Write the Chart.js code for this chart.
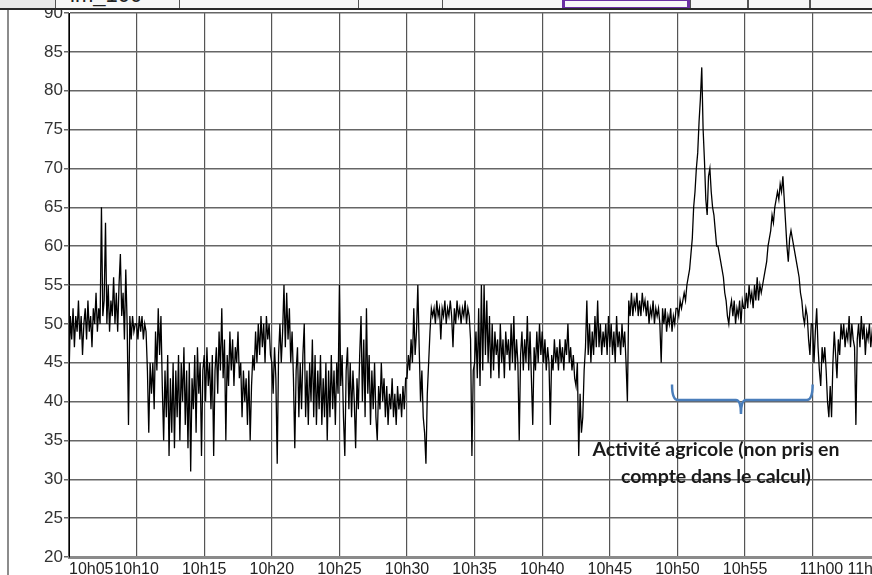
<!DOCTYPE html>
<html>
<head>
<meta charset="utf-8">
<script src="https://cdn.jsdelivr.net/npm/chart.js@4.4.1/dist/chart.umd.min.js"></script>
<style>
  html, body { margin: 0; padding: 0; width: 872px; height: 575px; overflow: hidden; background: #fff; }
  #wrap { position: absolute; left: 0; top: 0; width: 914px; height: 575px; }
  #strip { position: absolute; left: 0; top: 0; width: 872px; height: 8px; background: #e9e9e9; border-bottom: 2px solid #2a2a2a; overflow: hidden; }
  .cell { position: absolute; top: -2px; height: 9px; background: #f7f7f7; border: 1px solid #555; overflow: hidden; }
  .cell span { position: absolute; left: 14px; top: -17px; font: 22px "Liberation Sans", Arial, sans-serif; color: #222; }
  .sel { border: 3px solid #6b2fa3; height: 6px; }
  #leftline { position: absolute; left: 7px; top: 10px; width: 2px; height: 565px; background: #8c8c8c; }
</style>
</head>
<body>
<div id="wrap"><canvas id="chart"></canvas></div>
<div id="strip">
  <div class="cell" style="left:55px;width:123px"><span>lm_100</span></div>
  <div class="cell" style="left:179px;width:178px"></div>
  <div class="cell" style="left:358px;width:83px"></div>
  <div class="cell" style="left:442px;width:119px"></div>
  <div class="cell sel" style="left:562px;width:122px"></div>
  <div class="cell" style="left:690px;width:56px"></div>
  <div class="cell" style="left:748px;width:60px"></div>
  <div class="cell" style="left:810px;width:70px"></div>
</div>
<div id="leftline"></div>
<script>
// x axis: minutes after 10h05, one reading every 6 s
const tickLabels = ['10h05', '10h10', '10h15', '10h20', '10h25', '10h30', '10h35',
                    '10h40', '10h45', '10h50', '10h55', '11h00', '11h05'];
const stepMinutes = 0.1;

// sound level readings (dB), 50 per 5-minute block
const block0510 = [43, 51, 48, 52, 47, 51, 49, 53, 48, 51, 46, 50, 52, 48, 53, 49, 51, 47, 52, 50,
                   54, 49, 52, 50, 65, 51, 53, 63, 50, 55, 49, 53, 51, 56, 50, 54, 49, 55, 59, 51,
                   54, 48, 57, 50, 37, 51, 48, 51, 49, 50];
const block1015 = [50, 48, 51, 49, 51, 48, 50, 49, 44, 36, 45, 41, 45, 39, 49, 44, 52, 46, 51, 42,
                   35, 44, 38, 46, 33, 43, 36, 45, 34, 44, 38, 46, 35, 45, 40, 47, 37, 44, 34, 45,
                   31, 43, 39, 46, 36, 47, 41, 45, 33, 44];
const block1520 = [46, 40, 47, 42, 45, 39, 46, 33, 44, 47, 41, 49, 44, 52, 43, 48, 35, 46, 42, 49,
                   44, 48, 42, 47, 45, 49, 43, 45, 38, 44, 40, 43, 37, 44, 35, 42, 46, 44, 49, 45,
                   50, 46, 51, 47, 50, 45, 51, 48, 50, 46];
const block2025 = [45, 41, 47, 43, 32, 46, 50, 45, 49, 55, 47, 54, 48, 52, 45, 49, 43, 34, 44, 47,
                   38, 45, 39, 46, 50, 38, 44, 37, 45, 40, 48, 38, 46, 37, 44, 39, 46, 37, 43, 38,
                   45, 35, 44, 38, 46, 39, 44, 37, 45, 41];
const block2530 = [55, 42, 46, 38, 33, 44, 47, 39, 45, 38, 44, 40, 34, 43, 39, 46, 51, 40, 48, 38,
                   52, 41, 46, 37, 44, 39, 45, 38, 35, 42, 39, 45, 40, 43, 38, 42, 37, 41, 39, 43,
                   38, 41, 37, 42, 39, 41, 38, 42, 39, 43];
const block3035 = [43, 46, 44, 48, 45, 52, 46, 49, 55, 47, 40, 44, 38, 36, 32, 41, 45, 49, 52, 51,
                   52, 50, 53, 51, 52, 48, 52, 51, 53, 50, 52, 51, 53, 51, 47, 52, 50, 53, 51, 52,
                   50, 52, 51, 53, 50, 52, 51, 48, 33, 44];
const block3540 = [45, 49, 43, 52, 42, 55, 44, 55, 46, 53, 45, 51, 43, 50, 44, 49, 46, 48, 43, 50,
                   45, 48, 43, 49, 46, 48, 44, 50, 45, 51, 44, 48, 45, 35, 46, 49, 44, 48, 45, 51,
                   44, 49, 43, 37, 47, 44, 49, 45, 50, 46];
const block4045 = [49, 45, 48, 44, 47, 45, 37, 46, 44, 48, 45, 47, 44, 48, 45, 47, 44, 48, 46, 50,
                   45, 47, 44, 46, 43, 42, 45, 33, 41, 36, 38, 44, 47, 53, 46, 50, 45, 49, 46, 51,
                   47, 53, 47, 50, 46, 49, 47, 50, 46, 51];
const block4550 = [47, 50, 46, 49, 45, 51, 47, 49, 46, 50, 47, 49, 45, 40, 53, 51, 54, 51, 53, 52,
                   54, 51, 53, 51, 54, 52, 53, 51, 53, 50, 52, 51, 53, 50, 52, 51, 52, 50, 45, 52,
                   50, 52, 49, 51, 50, 52, 49, 51, 50, 52];
const block5055 = [52, 51, 53, 52, 53, 54, 53, 55, 56, 57, 59, 61, 65, 67, 70, 72, 76, 79, 83, 75,
                   71, 66, 64, 69, 70, 67, 65, 64, 62, 60, 60, 59, 58, 57, 56, 54, 53, 51, 50, 52,
                   53, 51, 53, 50, 52, 51, 53, 50, 53, 52];
const block5500 = [52, 54, 52, 55, 53, 54, 52, 55, 53, 56, 53, 55, 54, 55, 56, 57, 58, 60, 61, 62,
                   64, 63, 65, 66, 67, 66, 68, 67, 69, 66, 63, 60, 58, 61, 62, 61, 60, 59, 58, 57,
                   56, 54, 53, 51, 50, 52, 51, 48, 46, 50];
const block0005 = [50, 45, 49, 52, 47, 44, 42, 47, 45, 47, 44, 40, 38, 42, 38, 45, 49, 46, 43, 48,
                   46, 50, 48, 50, 47, 49, 48, 51, 47, 50, 48, 47, 37, 48, 50, 47, 51, 48, 50, 46,
                   49, 48, 50, 47, 49, 48, 50, 47, 49, 48, 49];

// bracket + note, in axis units (minutes, dB)
const bracket = { from: 44.6, to: 55, mid: 49.7, level: 40.2, ends: 42.2, tip: 38.4 };
const noteLines = ['Activité agricole (non pris en', 'compte dans le calcul)'];
const noteAt = { x: 47.85, y1: 33.8, y2: 30.3 };

const readings = [].concat(block0510, block1015, block1520, block2025, block2530, block3035,
                           block3540, block4045, block4550, block5055, block5500, block0005);
const points = readings.map((v, i) => ({ x: i * stepMinutes, y: v }));

const noteplugin = {
    id: 'note',
    afterDatasetsDraw(chart) {
        const { ctx } = chart;
        const xs = chart.scales.x, ys = chart.scales.y;
        const x0 = xs.getPixelForValue(bracket.from);
        const x1 = xs.getPixelForValue(bracket.to);
        const xm = xs.getPixelForValue(bracket.mid);
        const yl = ys.getPixelForValue(bracket.level);
        const ye = ys.getPixelForValue(bracket.ends);
        const yt = ys.getPixelForValue(bracket.tip);
        ctx.save();
        ctx.strokeStyle = '#4a7ebb';
        ctx.lineWidth = 2.5;
        ctx.beginPath();
        ctx.moveTo(x0, ye);
        ctx.quadraticCurveTo(x0, yl, x0 + 6, yl);
        ctx.lineTo(xm - 5, yl);
        ctx.quadraticCurveTo(xm, yl, xm, yt);
        ctx.moveTo(xm, yt);
        ctx.quadraticCurveTo(xm, yl, xm + 5, yl);
        ctx.lineTo(x1 - 6, yl);
        ctx.quadraticCurveTo(x1, yl, x1, ye);
        ctx.stroke();

        ctx.fillStyle = '#1a1a1a';
        ctx.font = 'bold 19.5px Lato, "Open Sans", sans-serif';
        ctx.textAlign = 'center';
        ctx.textBaseline = 'middle';
        const tx = xs.getPixelForValue(noteAt.x);
        ctx.fillText(noteLines[0], tx, ys.getPixelForValue(noteAt.y1));
        ctx.fillText(noteLines[1], tx, ys.getPixelForValue(noteAt.y2));
        ctx.restore();
    }
};

new Chart(document.getElementById('chart'), {
    type: 'line',
    data: {
        datasets: [{
            data: points,
            borderColor: '#000',
            borderWidth: 1.3,
            pointRadius: 0,
            tension: 0,
            fill: false
        }]
    },
    options: {
        responsive: true,
        maintainAspectRatio: false,
        animation: false,
        layout: { padding: { top: 13, right: 8, left: 0, bottom: 0 } },
        plugins: { legend: { display: false }, tooltip: { enabled: false } },
        scales: {
            x: {
                type: 'linear',
                min: 0,
                max: 60,
                afterFit(scale) { scale.height = 18; },
                afterBuildTicks(scale) {
                    scale.ticks = tickLabels.map((t, i) => ({ value: i * 5 }));
                },
                ticks: {
                    autoSkip: false,
                    maxRotation: 0,
                    minRotation: 0,
                    padding: 1,
                    color: '#222',
                    font: { family: '"Liberation Sans", Arial, sans-serif', size: 16 },
                    callback(value, index) {
                        const label = tickLabels[index];
                        // nudge the edge labels like the original layout
                        if (index === 0) return '          ' + label;
                        if (index === 11) return '    ' + label;
                        if (index === 12) return label + '     ';
                        return label;
                    }
                },
                grid: { color: '#555', lineWidth: 1.2, tickLength: 2 },
                border: { color: '#8a8a8a', width: 3 }
            },
            y: {
                min: 20,
                max: 90,
                afterFit(scale) { scale.width = 69; },
                ticks: {
                    stepSize: 5,
                    padding: 1,
                    color: '#333',
                    font: { family: '"Liberation Sans", Arial, sans-serif', size: 17 }
                },
                grid: { color: '#666', lineWidth: 1.5, tickLength: 5 },
                border: { color: '#000', width: 1 }
            }
        }
    },
    plugins: [noteplugin]
});
</script>
</body>
</html>
